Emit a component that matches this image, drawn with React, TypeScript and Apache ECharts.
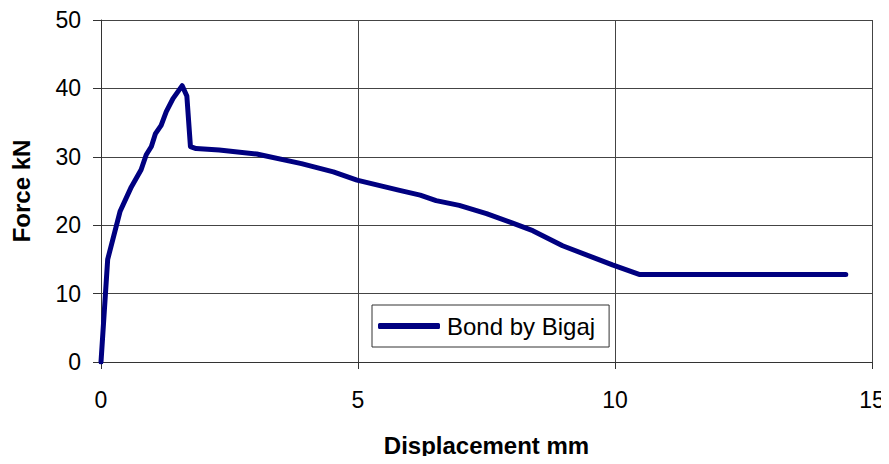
import React, { useEffect, useRef } from "react";
import * as echarts from "echarts";

const displacement = [0, 0.13, 0.37, 0.59, 0.78, 0.88, 0.98, 1.06, 1.17, 1.27, 1.4, 1.58, 1.67, 1.74, 1.85, 2.3, 3.03, 3.9, 4.52, 4.98, 5.81, 6.21, 6.52, 6.97, 7.5, 8.01, 8.4, 8.98, 9.95, 10.47, 14.49];
const force = [0, 15, 22, 25.6, 28.1, 30.3, 31.5, 33.4, 34.6, 36.6, 38.5, 40.4, 38.9, 31.5, 31.2, 31.0, 30.4, 29.0, 27.8, 26.6, 25.1, 24.4, 23.6, 22.9, 21.7, 20.3, 19.2, 17.0, 14.2, 12.8, 12.8];
const seriesName = "Bond by Bigaj";
const xTicks = [0, 5, 10, 15];
const yTicks = [0, 10, 20, 30, 40, 50];

export default function App() {
  const ref = useRef<HTMLDivElement>(null);
  useEffect(() => {
    if (!ref.current) return;
    const chart = echarts.init(ref.current, null, { renderer: "svg" });
    const font = "Liberation Sans, Arial, sans-serif";
    chart.setOption({
      animation: false,
      backgroundColor: "#ffffff",
      grid: { left: 101, right: 17, top: 20, bottom: 102, containLabel: false, show: false },
      legend: {
        show: true,
        left: 372,
        top: 305,
        orient: "horizontal",
        icon: "roundRect",
        itemWidth: 62,
        itemHeight: 6,
        itemGap: 4,
        padding: [9, 14, 9, 6],
        borderColor: "#333",
        borderWidth: 1,
        backgroundColor: "#fff",
        textStyle: { fontFamily: font, fontSize: 24, color: "#000", padding: [0, 0, 0, 2] },
        data: [seriesName],
      },
      xAxis: {
        type: "value",
        min: xTicks[0],
        max: xTicks[xTicks.length - 1],
        interval: 5,
        name: "Displacement mm",
        nameLocation: "middle",
        nameGap: 71,
        nameTextStyle: { fontFamily: font, fontSize: 24, fontWeight: "bold", color: "#000" },
        axisLine: { show: true, onZero: false, lineStyle: { color: "#333", width: 1 } },
        axisTick: { show: true, inside: false, length: 7, lineStyle: { color: "#333" } },
        axisLabel: { fontFamily: font, fontSize: 23, color: "#000", margin: 26 },
        splitLine: { show: true, lineStyle: { color: "#444", width: 1 } },
      },
      yAxis: {
        type: "value",
        min: yTicks[0],
        max: yTicks[yTicks.length - 1],
        interval: 10,
        name: "Force kN",
        nameLocation: "middle",
        nameGap: 68,
        nameRotate: 90,
        nameTextStyle: { fontFamily: font, fontSize: 24, fontWeight: "bold", color: "#000" },
        axisLine: { show: true, onZero: false, lineStyle: { color: "#333", width: 1 } },
        axisTick: { show: true, inside: false, length: 8, lineStyle: { color: "#333" } },
        axisLabel: { fontFamily: font, fontSize: 23, color: "#000", margin: 20 },
        splitLine: { show: true, lineStyle: { color: "#444", width: 1 } },
      },
      series: [
        {
          name: seriesName,
          type: "line",
          data: displacement.map((x, i) => [x, force[i]]),
          showSymbol: false,
          symbol: "none",
          lineStyle: { color: "#000080", width: 5, cap: "round", join: "round" },
          itemStyle: { color: "#000080" },
          z: 5,
        },
      ],
    });
    return () => chart.dispose();
  }, []);
  return <div ref={ref} style={{ width: 889, height: 464, margin: -8 }} />;
}
